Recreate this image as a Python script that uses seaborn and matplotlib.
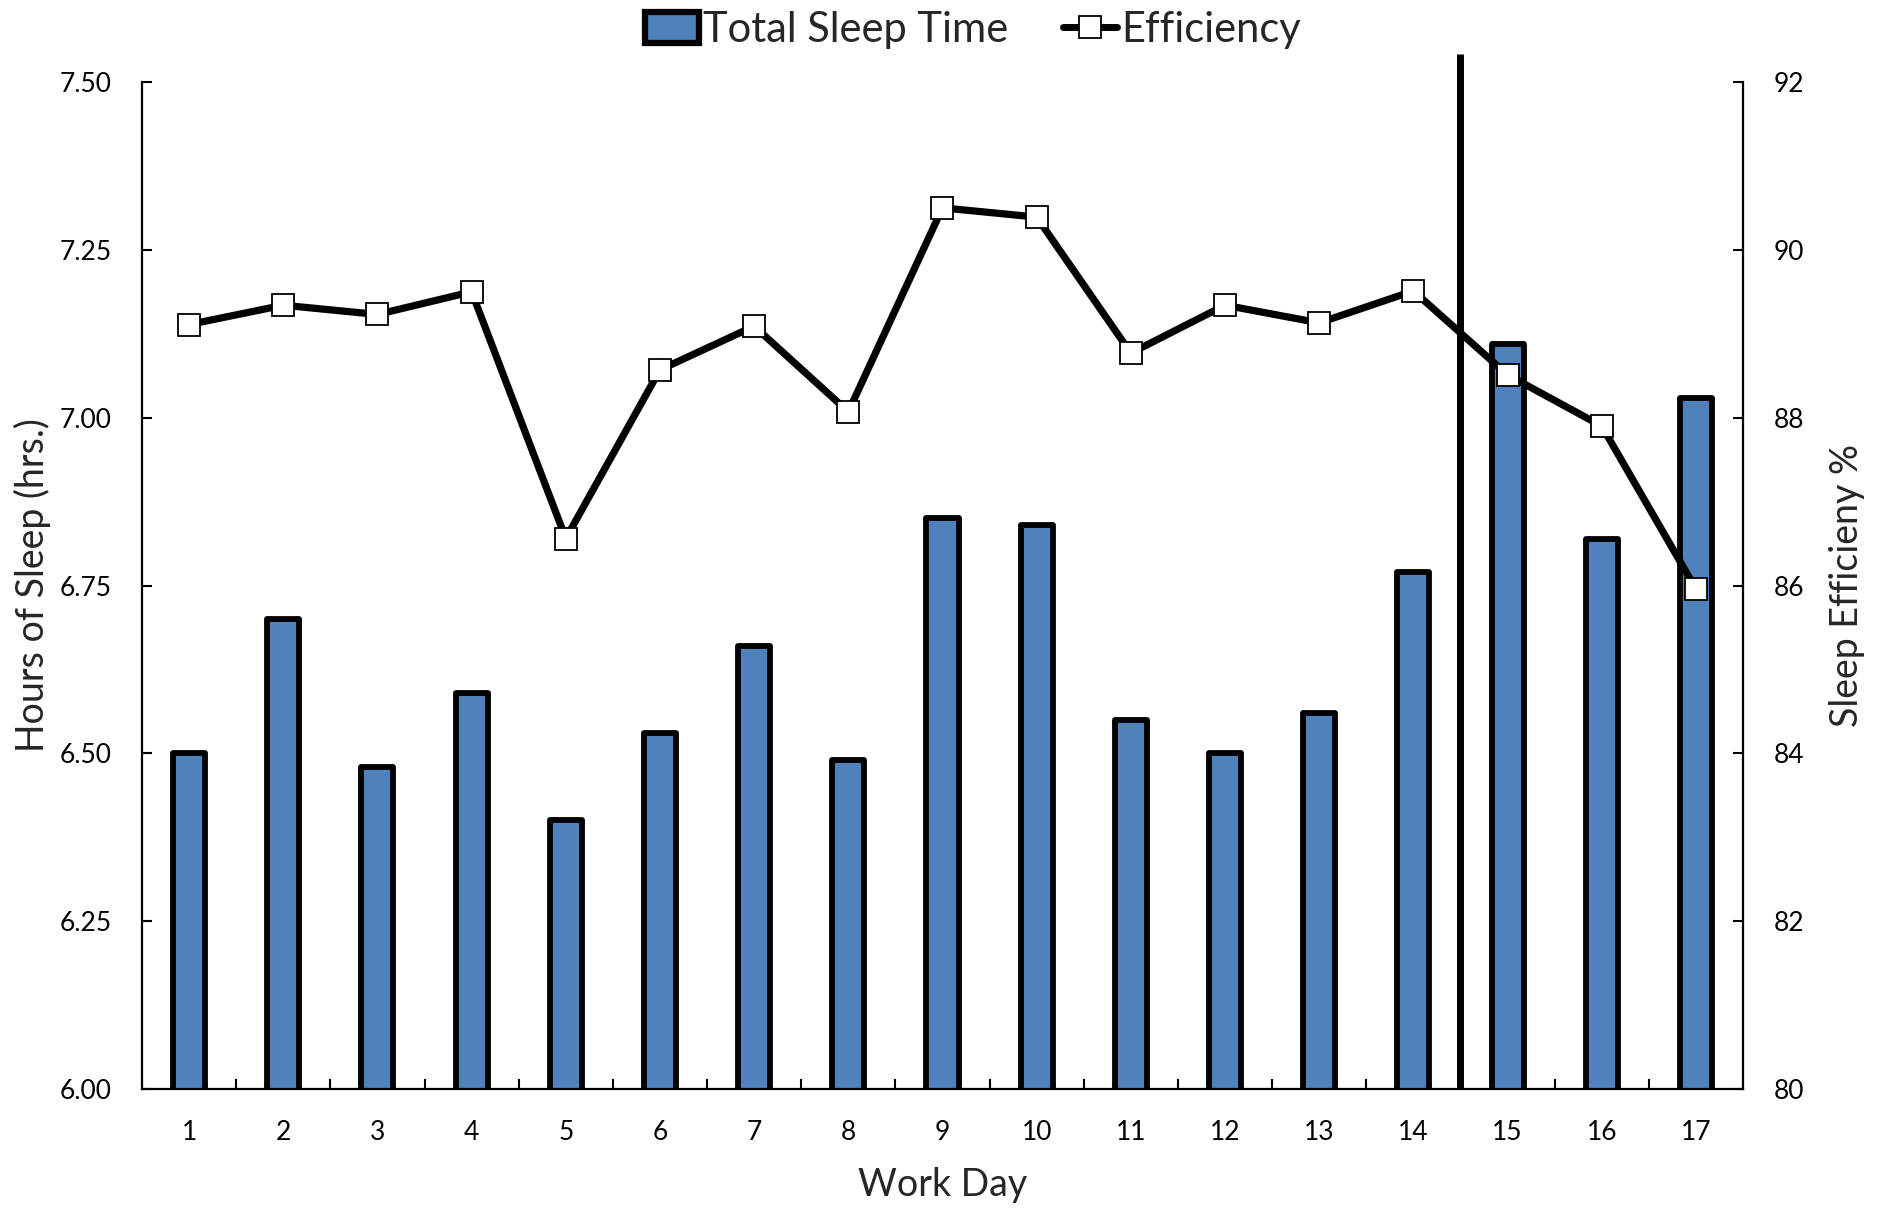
import numpy as np
import pandas as pd
import matplotlib
matplotlib.use("Agg")
import matplotlib.pyplot as plt
from matplotlib.patches import Patch
from matplotlib.lines import Line2D
from matplotlib.ticker import FixedLocator
import seaborn as sns

# ---- data -------------------------------------------------------------
work_days = [str(d) for d in range(1, 18)]
total_sleep_hrs = [6.50, 6.70, 6.48, 6.59, 6.40, 6.53, 6.66, 6.49, 6.85,
                   6.84, 6.55, 6.50, 6.56, 6.77, 7.11, 6.82, 7.03]
efficiency_pct = [89.11, 89.34, 89.23, 89.50, 86.56, 88.57, 89.09, 88.07, 90.50,
                  90.39, 88.77, 89.34, 89.13, 89.51, 88.51, 87.90, 85.96]
hours_ticks = [6.00, 6.25, 6.50, 6.75, 7.00, 7.25, 7.50]
eff_ticks = [80, 82, 84, 86, 88, 90, 92]
phase_break_after_day = 14  # vertical divider between day 14 and 15

df = pd.DataFrame({"day": work_days, "sleep": total_sleep_hrs, "eff": efficiency_pct})

# ---- style ------------------------------------------------------------
sns.set_theme(style="ticks")
plt.rcParams["font.family"] = ["Lato", "DejaVu Sans"]
BAR_BLUE = "#4F81BD"

W, H = 1882, 1211
fig = plt.figure(figsize=(W / 100, H / 100), dpi=100)
ax = fig.add_axes([142 / W, 1 - 1089 / H, (1743 - 142) / W, (1089 - 82) / H])

sns.barplot(data=df, x="day", y="sleep", order=work_days, ax=ax,
            color=BAR_BLUE, saturation=1, width=0.34,
            edgecolor="black", linewidth=4.2, zorder=2)
for p in ax.patches:
    p.set_joinstyle("round")

ax.set_ylim(hours_ticks[0], hours_ticks[-1])
ax.set_xlim(-0.5, len(work_days) - 0.5)
ax.set_yticks(hours_ticks)
ax.set_yticklabels([f"{t:.2f}" for t in hours_ticks])

# efficiency on a secondary axis
ax2 = ax.twinx()
x_idx = np.arange(len(work_days))
sns.lineplot(x=x_idx, y=efficiency_pct, ax=ax2, color="black", linewidth=5.2,
             marker="s", markersize=16, markerfacecolor="white",
             markeredgecolor="black", markeredgewidth=1.3, zorder=4)
ax2.set_ylim(eff_ticks[0], eff_ticks[-1])
ax2.set_yticks(eff_ticks)
ax2.set_xlim(-0.5, len(work_days) - 0.5)

# divider between phases
ax2.axvline(phase_break_after_day - 0.5, ymin=0, ymax=1.028, color="black",
            linewidth=5, clip_on=False, zorder=5, solid_capstyle="butt")

# ---- axes cosmetics ---------------------------------------------------
for a in (ax, ax2):
    a.spines["top"].set_visible(False)
    for s in ("left", "right", "bottom"):
        a.spines[s].set_linewidth(1.6)
        a.spines[s].set_color("black")
ax.spines["right"].set_visible(False)
ax2.spines["left"].set_visible(False)
ax2.spines["bottom"].set_visible(False)

ax.tick_params(axis="y", direction="in", length=7, width=1.5, pad=22,
               labelsize=19, colors="black")
ax2.tick_params(axis="y", direction="in", length=7, width=1.5, pad=22,
                labelsize=19, colors="black")
ax.tick_params(axis="x", which="major", length=0, pad=22, labelsize=19,
               colors="black")
ax.xaxis.set_minor_locator(FixedLocator(np.arange(0.5, len(work_days) - 1, 1.0)))
ax.tick_params(axis="x", which="minor", direction="in", length=7, width=1.5,
               color="black")

ax.set_xlabel("Work Day", fontsize=27, labelpad=16)
ax.set_ylabel("Hours of Sleep (hrs.)", fontsize=27, labelpad=6)
ax2.set_ylabel("Sleep Efficieny %", fontsize=27, labelpad=18)
ax2.xaxis.set_visible(False)

# legend at the top
handles = [
    Patch(facecolor=BAR_BLUE, edgecolor="black", linewidth=4.5),
    Line2D([0], [0], color="black", linewidth=5, marker="s", markersize=16,
           markerfacecolor="white", markeredgecolor="black", markeredgewidth=1.3),
]
fig.legend(handles, ["Total Sleep Time", "Efficiency"], loc="center",
           bbox_to_anchor=(973 / W, 1 - 30 / H), ncol=2, frameon=False,
           fontsize=30, handlelength=1.3, handleheight=0.8, handletextpad=0.1,
           columnspacing=1.3)

fig.savefig("out.png", dpi=100, facecolor="white")
